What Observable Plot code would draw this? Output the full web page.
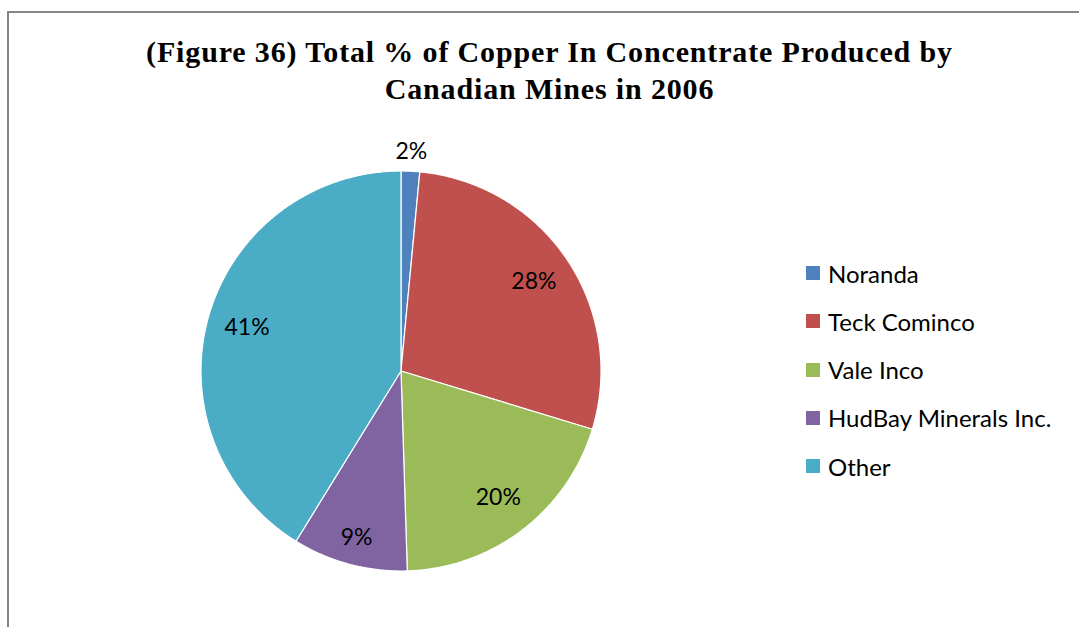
<!DOCTYPE html>
<html><head><meta charset="utf-8">
<script src="https://cdn.jsdelivr.net/npm/d3@7"></script>
<script src="https://cdn.jsdelivr.net/npm/@observablehq/plot@0.6"></script>
<style>
html,body{margin:0;padding:0;background:#fff;}
#wrap{position:relative;width:1079px;height:627px;overflow:hidden;}
#frame{position:absolute;left:7px;top:11px;width:1200px;height:800px;border:2px solid #868686;box-sizing:border-box;}
#title{position:absolute;left:10px;width:1079px;top:33px;text-align:center;font-family:"Liberation Serif","Times New Roman",serif;font-weight:bold;font-size:30px;letter-spacing:0.85px;line-height:37px;color:#000;}
#chart{position:absolute;left:0;top:0;}
#legend{position:absolute;left:806px;top:0;font-family:Lato,"Noto Sans",sans-serif;font-size:24px;color:#000;}
.row{position:absolute;left:0;height:30px;display:flex;align-items:center;white-space:nowrap;}
.sw{width:14px;height:14px;margin-right:8px;flex:none;}
</style></head>
<body>
<div id="wrap">
  <div id="frame"></div>
  <div id="title">(Figure 36) Total % of Copper In Concentrate Produced by<br>Canadian Mines in 2006</div>
  <div id="chart"></div>
  <div id="legend"></div>
</div>
<script>
const companies = ["Noranda", "Teck Cominco", "Vale Inco", "HudBay Minerals Inc.", "Other"];
const shares = [1.5, 28.2, 19.8, 9.3, 41.2];
const colors = ["#4F81BD", "#C0504D", "#9BBB59", "#8064A2", "#4BACC6"];

const total = d3.sum(shares);
let acc = 0;
const slices = companies.map((name, i) => {
  const a0 = acc / total * 2 * Math.PI;
  acc += shares[i];
  const a1 = acc / total * 2 * Math.PI;
  return {name, value: shares[i], a0, a1};
});

// polygon vertices for each slice (centre + arc samples)
const verts = [];
for (const s of slices) {
  verts.push({name: s.name, x: 0, y: 0});
  const n = Math.max(2, Math.ceil((s.a1 - s.a0) / (Math.PI / 360)));
  for (let k = 0; k <= n; k++) {
    const a = s.a0 + (s.a1 - s.a0) * k / n;
    verts.push({name: s.name, x: Math.sin(a), y: Math.cos(a)});
  }
  verts.push({name: s.name, x: 0, y: 0});
}

const labels = slices.map(s => {
  const frac = s.value / total;
  const r = frac < 0.05 ? 1.1 : frac < 0.1 ? 0.86 : 0.8;
  const m = (s.a0 + s.a1) / 2;
  return {x: r * Math.sin(m), y: r * Math.cos(m), text: Math.round(s.value) + "%"};
});

const chart = Plot.plot({
  width: 1079,
  height: 627,
  margin: 0,
  style: {background: "transparent", overflow: "visible"},
  x: {domain: [-1, 1], range: [200.5, 600.5], axis: null},
  y: {domain: [-1, 1], range: [570.5, 170.5], axis: null},
  color: {domain: companies, range: colors},
  marks: [
    Plot.line(verts, {x: "x", y: "y", z: "name", fill: "name", stroke: "#fff", strokeWidth: 1.2, curve: "linear", strokeLinejoin: "round"}),
    Plot.text(labels, {x: "x", y: "y", text: "text", fontSize: 23, fontFamily: "Lato, 'Noto Sans', sans-serif", fill: "#000", textAnchor: "middle", lineAnchor: "middle"})
  ]
});
document.getElementById("chart").appendChild(chart);

const legend = document.getElementById("legend");
companies.forEach((name, i) => {
  const row = document.createElement("div");
  row.className = "row";
  row.style.top = (273 + i * 48.3 - 15) + "px";
  const sw = document.createElement("div");
  sw.className = "sw";
  sw.style.background = colors[i];
  const t = document.createElement("span");
  t.textContent = name;
  row.appendChild(sw); row.appendChild(t);
  legend.appendChild(row);
});
</script>
</body></html>
